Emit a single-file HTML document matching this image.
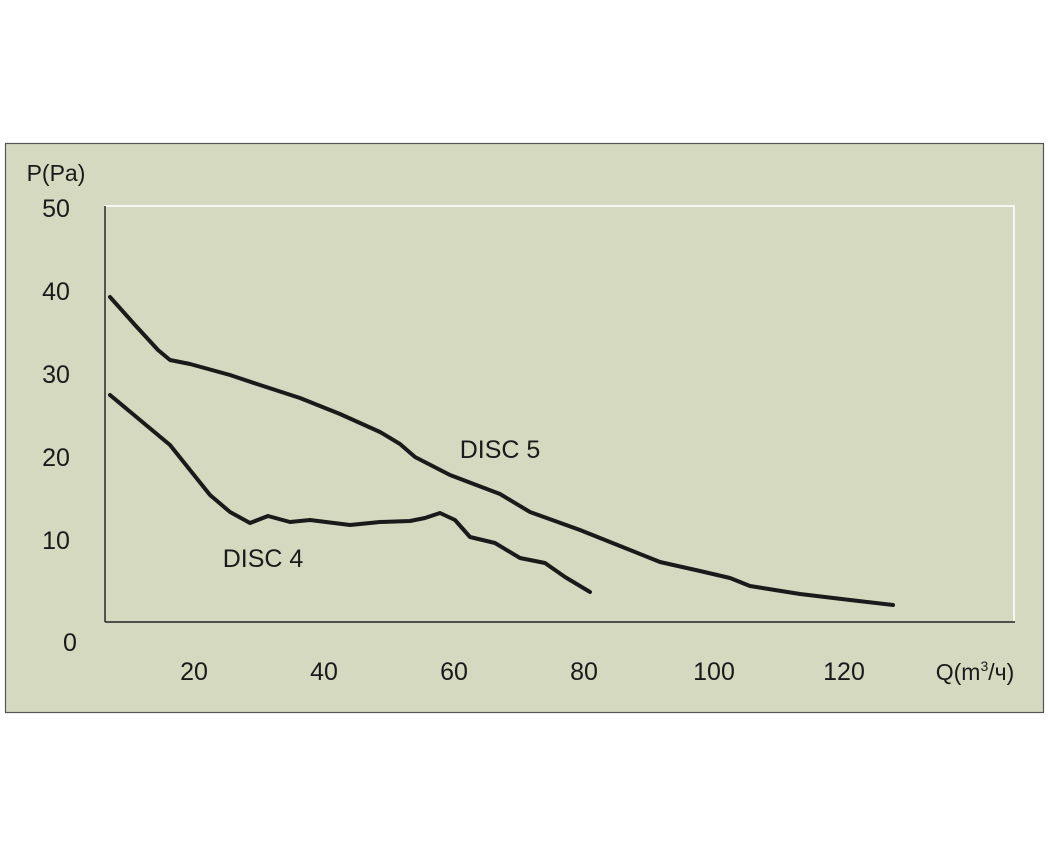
<!DOCTYPE html>
<html><head><meta charset="utf-8"><style>
body{margin:0;background:#fff;}
svg{display:block;font-family:"Liberation Sans",sans-serif;}
</style></head><body>
<svg width="1048" height="858" viewBox="0 0 1048 858">
<rect x="5.5" y="143.5" width="1038" height="569" fill="#d4d9c0" stroke="#555" stroke-width="1.2"/>
<polyline points="105,622 105,206 1014,206 1014,622" fill="none" stroke="#fff" stroke-width="1.5"/>
<line x1="105" y1="206" x2="105" y2="622" stroke="#222" stroke-width="1.5"/>
<line x1="105" y1="622" x2="1015" y2="622" stroke="#222" stroke-width="1.5"/>
<g font-size="25" fill="#1a1a1a" text-anchor="middle">
<text x="56" y="181" font-size="23">P(Pa)</text>
<text x="56" y="217">50</text>
<text x="56" y="300">40</text>
<text x="56" y="383">30</text>
<text x="56" y="466">20</text>
<text x="56" y="549">10</text>
<text x="70" y="651">0</text>
<text x="194" y="680">20</text>
<text x="324" y="680">40</text>
<text x="454" y="680">60</text>
<text x="584" y="680">80</text>
<text x="714" y="680">100</text>
<text x="844" y="680">120</text>
<text x="975" y="680" font-size="23">Q(m<tspan font-size="14" dy="-9">3</tspan><tspan dy="9">/ч)</tspan></text>
<text x="500" y="458">DISC 5</text>
<text x="263" y="567">DISC 4</text>
</g>
<g fill="none" stroke="#1a1a1a" stroke-width="4" stroke-linejoin="round" stroke-linecap="round">
<polyline points="110,297 135,325 158,350 170,360 190,364 230,375 260,385 300,398 340,414 380,432 400,444 415,457 450,475 500,494 530,512 580,530 620,546 660,562 700,571 730,578 750,586 800,594 850,600 893,605"/>
<polyline points="110,395 140,420 170,445 190,470 210,495 230,512 250,523 268,516 290,522 310,520 350,525 380,522 410,521 425,518 440,513 455,520 470,537 495,543 520,558 545,563 565,577 590,592"/>
</g>
</svg>
</body></html>
